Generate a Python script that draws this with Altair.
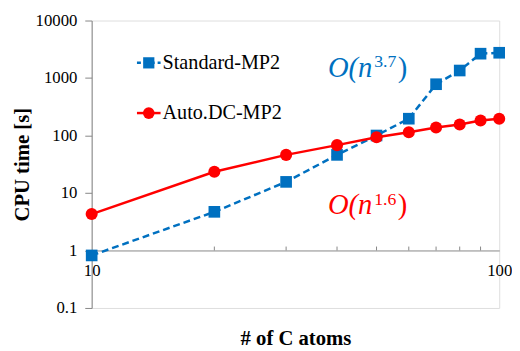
import altair as alt
import pandas as pd

# ---- data ----
n_atoms = [10, 20, 30, 40, 50, 60, 70, 80, 90, 100]
standard_mp2 = [0.82, 4.7, 15.6, 46, 100, 196, 780, 1350, 2650, 2750]
auto_dc_mp2 = [4.3, 23.4, 46, 68, 93, 114, 138, 155, 182, 196]
x_minor_ticks = [20, 30, 40, 50, 60, 70, 80, 90]
x_tick_labels = [10, 100]
y_tick_values = [0.1, 1, 10, 100, 1000, 10000]
series_names = ["Standard-MP2", "Auto.DC-MP2"]
series_colors = ["#0070C0", "#FF0000"]
order_labels = [("O(n", "3.7", ")"), ("O(n", "1.6", ")")]

FONT = "Liberation Serif, Times New Roman, DejaVu Serif, serif"
GRAY = "#868686"
BLUE, RED = series_colors

df = pd.DataFrame({"n": n_atoms, "std": standard_mp2, "dc": auto_dc_mp2})
ticks_df = pd.DataFrame({"n": x_minor_ticks, "lo": [1.0] * len(x_minor_ticks),
                         "hi": [1.17] * len(x_minor_ticks)})
one = pd.DataFrame({"k": [0]})

xs = alt.Scale(type="log", domain=[10, 100], nice=False)
ys = alt.Scale(type="log", domain=[0.1, 10000], nice=False)

x_axis = alt.Axis(values=x_tick_labels, format="~f", offset=-58.4, ticks=False,
                  tickSize=0, grid=False, domainColor=GRAY, domainWidth=1,
                  labelFont=FONT, labelFontSize=17, labelColor="black",
                  labelPadding=12, labelFlush=False, title="# of C atoms",
                  titleFont=FONT, titleFontSize=21, titleFontWeight="bold",
                  titleColor="black", titleX=207, titleY=96, titleAlign="center",
                  titleBaseline="alphabetic")
y_axis = alt.Axis(values=y_tick_values, format="~f", grid=False, tickSize=7,
                  tickColor=GRAY, domainColor=GRAY, labelFont=FONT,
                  labelFontSize=17, labelColor="black", labelPadding=8,
                  labelFlush=False, title="CPU time [s]", titleFont=FONT,
                  titleFontSize=21, titleFontWeight="bold", titleColor="black",
                  titleAngle=270, titleX=-60, titleY=146, titleAlign="center",
                  titleBaseline="bottom")

X = alt.X("n:Q", scale=xs, axis=x_axis)

minor = alt.Chart(ticks_df).mark_rule(color=GRAY, strokeWidth=1).encode(
    x=X, y=alt.Y("lo:Q", scale=ys, axis=y_axis), y2="hi:Q")

std_line = alt.Chart(df).mark_line(color=BLUE, strokeWidth=2.5,
                                   strokeDash=[7, 4]).encode(
    x=X, y=alt.Y("std:Q", scale=ys, axis=y_axis))
std_pts = alt.Chart(df).mark_point(shape="square", filled=True, size=140,
                                   color=BLUE, opacity=1).encode(
    x=X, y=alt.Y("std:Q", scale=ys, axis=y_axis))
dc_line = alt.Chart(df).mark_line(color=RED, strokeWidth=2.5).encode(
    x=X, y=alt.Y("dc:Q", scale=ys, axis=y_axis))
dc_pts = alt.Chart(df).mark_point(shape="circle", filled=True, size=150,
                                  color=RED, opacity=1).encode(
    x=X, y=alt.Y("dc:Q", scale=ys, axis=y_axis))

# ---- legend (manual, inside plot) ----
leg = []
leg_y = [43, 94]
for i, (name, col) in enumerate(zip(series_names, series_colors)):
    rule_kw = dict(color=col, strokeWidth=2.5)
    if i == 0:
        rule_kw["strokeDash"] = [4, 3]
    leg.append(alt.Chart(one).mark_rule(**rule_kw).encode(
        x=alt.value(46), x2=alt.value(70), y=alt.value(leg_y[i])))
    leg.append(alt.Chart(one).mark_point(
        shape="square" if i == 0 else "circle", filled=True,
        size=130 if i == 0 else 140, color=col, opacity=1).encode(
        x=alt.value(58), y=alt.value(leg_y[i])))
    leg.append(alt.Chart(one).mark_text(
        text=name, font=FONT, fontSize=20.5, color="black", align="left",
        baseline="alphabetic").encode(x=alt.value(72), y=alt.value(leg_y[i] + 6)))

# ---- complexity annotations ----
ann = []
ann_y = [57, 197]
for (base, sup, close), col, yb in zip(order_labels, series_colors, ann_y):
    ann.append(alt.Chart(one).mark_text(
        text=base, font=FONT, fontSize=29, fontStyle="italic", color=col,
        align="left", baseline="alphabetic").encode(
        x=alt.value(240), y=alt.value(yb)))
    ann.append(alt.Chart(one).mark_text(
        text=sup, font=FONT, fontSize=18, color=col,
        align="left", baseline="alphabetic").encode(
        x=alt.value(287), y=alt.value(yb - 10)))
    ann.append(alt.Chart(one).mark_text(
        text=close, font=FONT, fontSize=29, color=col,
        align="left", baseline="alphabetic").encode(
        x=alt.value(311), y=alt.value(yb)))

chart = alt.layer(minor, std_line, std_pts, dc_line, dc_pts, *leg, *ann).properties(
    width=414, height=292,
    autosize=alt.AutoSizeParams(type="none"),
    padding={"left": 85, "top": 10, "right": 13, "bottom": 41},
).configure_view(stroke=GRAY, strokeWidth=1).configure(background="white")

chart.save("out.html", embed_options={"renderer": "svg", "actions": False})
